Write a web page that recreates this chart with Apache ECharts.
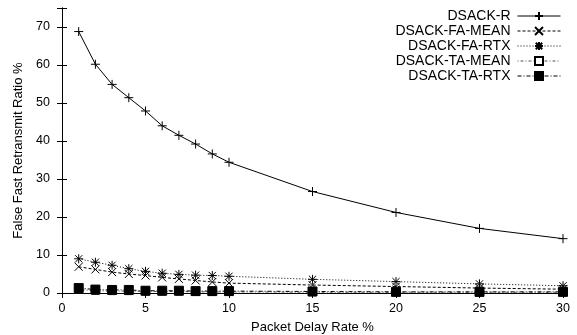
<!DOCTYPE html>
<html>
<head>
<meta charset="utf-8">
<script src="https://cdn.jsdelivr.net/npm/echarts@6/dist/echarts.min.js"></script>
<style>html,body{margin:0;padding:0;background:#fff}#c{width:577px;height:335px}</style>
</head>
<body>
<div id="c"></div>
<script>
const delayRates = [1, 2, 3, 4, 5, 6, 7, 8, 9, 10, 15, 20, 25, 30];
const dsackR     = [68.8, 60.2, 54.9, 51.4, 47.9, 44.0, 41.5, 39.2, 36.6, 34.4, 26.7, 21.2, 17.0, 14.3];
const faMean     = [6.9, 6.2, 5.5, 5.0, 4.6, 4.1, 3.7, 3.3, 2.9, 2.6, 2.1, 1.7, 1.3, 1.0];
const faRtx      = [9.0, 8.1, 7.3, 6.4, 5.7, 5.2, 4.9, 4.7, 4.6, 4.4, 3.6, 3.0, 2.4, 1.9];
const taMean     = [0.9, 0.6, 0.5, 0.5, 0.4, 0.4, 0.4, 0.3, 0.3, 0.3, 0.2, 0.2, 0.2, 0.2];
const taRtx      = [1.3, 0.9, 0.8, 0.8, 0.6, 0.6, 0.6, 0.5, 0.5, 0.5, 0.4, 0.3, 0.3, 0.3];
const seriesNames = ['DSACK-R', 'DSACK-FA-MEAN', 'DSACK-FA-RTX', 'DSACK-TA-MEAN', 'DSACK-TA-RTX'];
const xTicks = { min: 0, max: 30, interval: 5 };
const yTicks = { min: 0, max: 75, interval: 10 };

const FONT = 'Liberation Sans, Arial, sans-serif';
const plus = 'path://M0,5L10,5M5,0L5,10';
const cross = 'path://M0,0L10,10M0,10L10,0';
const star = 'path://M0,5L10,5M5,0L5,10M1,1L9,9M1,9L9,1';
const sq = 'path://M0,0L10,0L10,10L0,10Z';

function pairs(vals){ return delayRates.map((x,i)=>[x, vals[i]]); }

function mk(name, vals, symbol, size, dash, fill, lineColor){
  return {
    name, type: 'line', data: pairs(vals),
    symbol, symbolSize: size, showSymbol: true,
    lineStyle: { color: lineColor || '#000', width: 1, type: dash },
    itemStyle: { color: fill, borderColor: '#000', borderWidth: 1 },
    emphasis: { disabled: true },
    animation: false, z: 3
  };
}

const chart = echarts.init(document.getElementById('c'), null, { renderer: 'canvas' });
const axisCommon = {
  axisLine: { show: true, lineStyle: { color: '#000', width: 1 } },
  axisTick: { show: true, inside: true, length: 5, lineStyle: { color: '#000' } },
  splitLine: { show: false },
};
chart.setOption({
  animation: false,
  textStyle: { fontFamily: FONT },
  grid: { left: 62, right: 14, top: 8, bottom: 42, containLabel: false, outerBoundsMode: 'none' },
  legend: {
    orient: 'vertical', right: 11, top: 4, align: 'right',
    itemWidth: 43, itemHeight: 10, itemGap: 1,
    data: seriesNames,
    lineStyle: { width: 1 },
    textStyle: { fontFamily: FONT, fontSize: 14, color: '#000', lineHeight: 13, padding: [0, 2, 0, 0] },
    selectedMode: false
  },
  xAxis: [
    Object.assign({ type: 'value', position: 'bottom', min: xTicks.min, max: xTicks.max, interval: xTicks.interval,
      name: 'Packet Delay Rate %', nameLocation: 'middle', nameGap: 28,
      nameTextStyle: { fontFamily: FONT, fontSize: 13, color: '#000' },
      axisLabel: { fontFamily: FONT, fontSize: 12.5, color: '#000', margin: 9 } }, axisCommon),
    Object.assign({ type: 'value', position: 'top', min: xTicks.min, max: xTicks.max, interval: xTicks.interval,
      axisLabel: { show: false } }, axisCommon)
  ],
  yAxis: [
    Object.assign({ type: 'value', position: 'left', min: yTicks.min, max: yTicks.max, interval: yTicks.interval,
      name: 'False Fast Retransmit Ratio %', nameLocation: 'middle', nameGap: 34, nameRotate: 90,
      nameTextStyle: { fontFamily: FONT, fontSize: 13, color: '#000' },
      axisLabel: { fontFamily: FONT, fontSize: 12.5, color: '#000', margin: 12,
        formatter: v => (v % 10 === 0 && v <= 70) ? String(v) : '' } }, axisCommon),
    Object.assign({ type: 'value', position: 'right', min: yTicks.min, max: yTicks.max, interval: yTicks.interval,
      axisLabel: { show: false } }, axisCommon)
  ],
  series: [
    mk(seriesNames[0], dsackR, plus, 9, 'solid', 'none'),
    mk(seriesNames[1], faMean, cross, 8, [3, 2], 'none'),
    mk(seriesNames[2], faRtx, star, 9, [1, 2], 'none'),
    mk(seriesNames[3], taMean, sq, 7, [1, 2, 3, 2], '#fff', '#555'),
    mk(seriesNames[4], taRtx, sq, 9, [4, 2, 1, 2], '#000')
  ]
});
</script>
</body>
</html>
